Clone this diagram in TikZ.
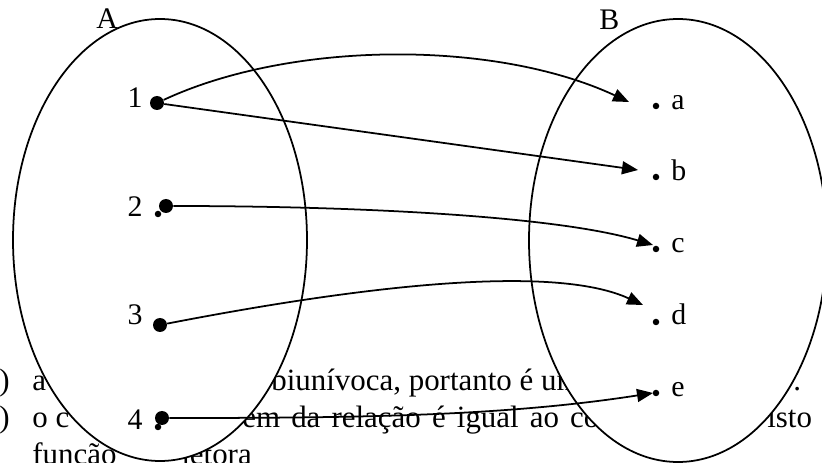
\documentclass[tikz,border=0pt]{standalone}
\usepackage{fontspec}
\setmainfont{Liberation Serif}
\usetikzlibrary{shapes.geometric, arrows.meta}
\tikzset{
	setell/.style  ={ellipse, draw=black, line width=1pt, fill=white, inner sep=0pt},
	bigdot/.style  ={circle, fill=black, inner sep=0pt, minimum size=0.28cm},
	smalldot/.style={circle, fill=black, inner sep=0pt, minimum size=0.13cm},
	elem/.style    ={inner sep=0pt, font=\fontsize{17}{20}\selectfont},
	txt/.style     ={anchor=base west, inner sep=0pt, font=\fontsize{17.6}{21}\selectfont},
	maparrow/.style={-{Triangle[length=0.32cm, width=0.26cm]}, line width=1pt},
}

\begin{document}
\begin{tikzpicture}
	\useasboundingbox (0,0) rectangle (16.44,9.26);
	% text of the page, partly hidden by the sets
	\node[txt] (l1a) at (-0.02,1.44) {)};
	\node[txt] (l1b) at (0.64,1.44) {a};
	\node[txt] (l1c) at (5.42,1.44) {biunívoca, portanto é um};
	\node[txt] (l1d) at (15.86,1.44) {.};
	\node[txt] (l2a) at (-0.02,0.70) {)};
	\node[txt] (l2b) at (0.64,0.70) {o c};
	\node[txt] (l2c) at (4.84,0.70) {\spaceskip=.36em\relax em da relação é igual ao co};
	\node[txt] (l2d) at (15.34,0.70) {isto};
	\node[txt] (l3a) at (0.64,-0.04) {função};
	\node[txt] (l3b) at (3.62,-0.04) {jetora};
	% sets
	\node[setell, minimum width=5.88cm, minimum height=8.84cm] (setA) at (3.20,4.46) {};
	\node[setell, minimum width=5.96cm, minimum height=8.86cm] (setB) at (13.56,4.45) {};
	\node[elem, anchor=base west] (nameA) at (1.92,8.68) {A};
	\node[elem, anchor=base west] (nameB) at (11.98,8.66) {B};
	% domain
	\node[smalldot] (p2) at (3.16,4.98) {};
	\node[smalldot] (p4) at (3.16,0.72) {};
	\node[bigdot] (n1) at (3.14,7.20) {};
	\node[bigdot] (n2) at (3.32,5.14) {};
	\node[bigdot] (n3) at (3.20,2.76) {};
	\node[bigdot] (n4) at (3.24,0.90) {};
	\node[elem, anchor=base] (k1) at (2.70,7.10) {1};
	\node[elem, anchor=base] (k2) at (2.70,4.92) {2};
	\node[elem, anchor=base] (k3) at (2.70,2.76) {3};
	\node[elem, anchor=base] (k4) at (2.70,0.66) {4};
	% codomain
	\foreach \n/\y/\ly in {a/7.14/7.06, b/5.72/5.64, c/4.28/4.20, d/2.82/2.76, e/1.40/1.32} {
		\node[smalldot] (m\n) at (13.12,\y) {};
		\node[elem, anchor=base west] (k\n) at (13.42,\ly) {\n};
	}
	% arrow tips
	\coordinate (ta) at (12.58,7.22);
	\coordinate (tb) at (12.76,5.86);
	\coordinate (tc) at (13.06,4.36);
	\coordinate (td) at (12.86,3.16);
	\coordinate (te) at (13.06,1.40);
	\draw[maparrow] (n1) .. controls (5.82,8.45) and (9.90,8.47) .. (ta);
	\draw[maparrow] (n1) -- (tb);
	\draw[maparrow] (n2) .. controls (7.14,5.14) and (11.14,4.94) .. (tc);
	\draw[maparrow] (n3) .. controls (7.12,3.52) and (11.04,4.00) .. (td);
	\draw[maparrow] (n4) .. controls (7.24,0.90) and (10.10,0.94) .. (te);
\end{tikzpicture}
\end{document}
